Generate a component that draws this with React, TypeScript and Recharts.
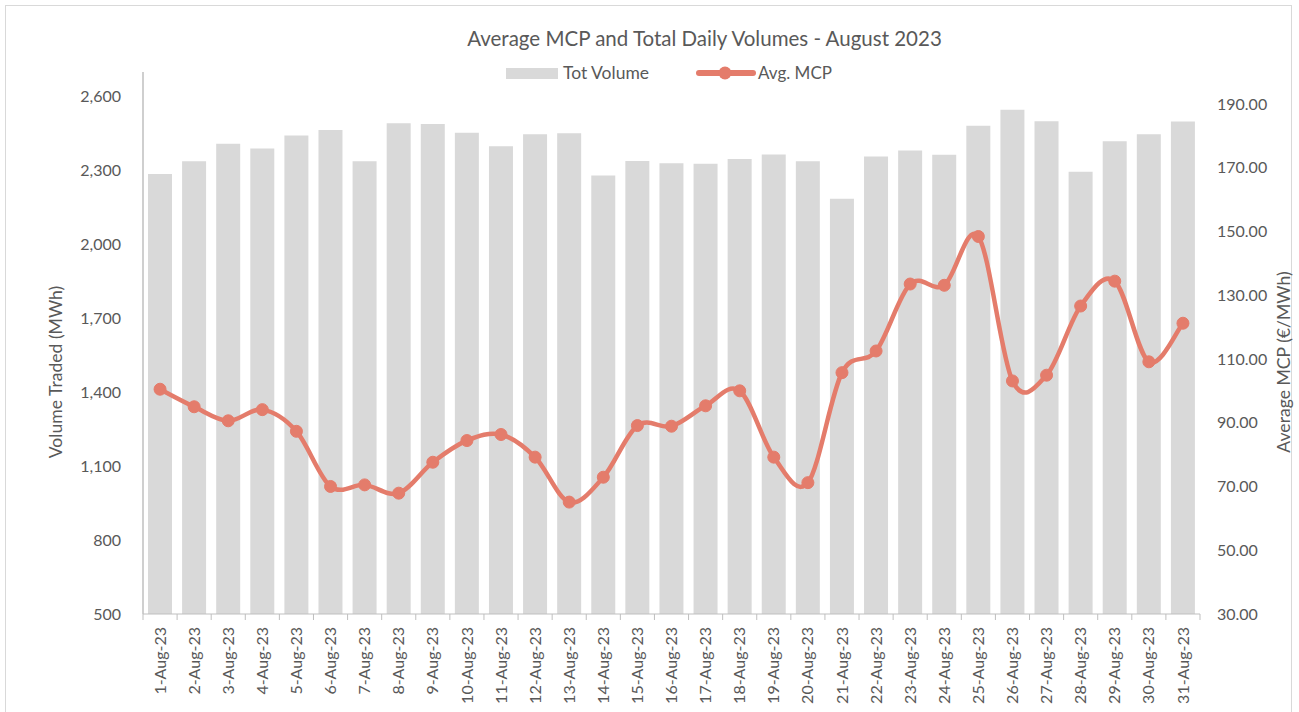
import React from 'react';
import { ComposedChart, Bar, Line, XAxis, YAxis } from 'recharts';

const categories = [
  '1-Aug-23', '2-Aug-23', '3-Aug-23', '4-Aug-23', '5-Aug-23', '6-Aug-23', '7-Aug-23', '8-Aug-23',
  '9-Aug-23', '10-Aug-23', '11-Aug-23', '12-Aug-23', '13-Aug-23', '14-Aug-23', '15-Aug-23', '16-Aug-23',
  '17-Aug-23', '18-Aug-23', '19-Aug-23', '20-Aug-23', '21-Aug-23', '22-Aug-23', '23-Aug-23', '24-Aug-23',
  '25-Aug-23', '26-Aug-23', '27-Aug-23', '28-Aug-23', '29-Aug-23', '30-Aug-23', '31-Aug-23',
];

const totVolume = [
  2286, 2338, 2409, 2389, 2442, 2465, 2338, 2492,
  2489, 2453, 2399, 2447, 2451, 2280, 2339, 2330,
  2328, 2347, 2365, 2338, 2186, 2357, 2381, 2364,
  2482, 2547, 2500, 2295, 2419, 2447, 2499,
];

const avgMcp = [
  100.5, 95.0, 90.6, 94.1, 87.3, 70.0, 70.5, 67.9,
  77.6, 84.4, 86.3, 79.2, 65.1, 72.9, 89.1, 88.9,
  95.3, 100.0, 79.2, 71.2, 105.7, 112.5, 133.5, 133.1,
  148.4, 103.1, 104.9, 126.6, 134.4, 109.1, 121.2,
];

const volumeTicks = [500, 800, 1100, 1400, 1700, 2000, 2300, 2600];
const mcpTicks = [30, 50, 70, 90, 110, 130, 150, 170, 190];

const data = categories.map((date, i) => ({ date, vol: totVolume[i], mcp: avgMcp[i] }));

const FONT = 'Lato, "Open Sans", sans-serif';
const TEXT = '#595959';
const AXIS = '#bfbfbf';
const BAR = '#d9d9d9';
const LINE = '#e47c6b';

const PLOT_LEFT = 143;
const PLOT_RIGHT = 1200;
const PLOT_TOP = 72;
const PLOT_BOTTOM = 614;
const BW = (PLOT_RIGHT - PLOT_LEFT) / categories.length;

// Catmull-Rom style smoothing similar to Excel's smoothed line
const smoothCurve = (context: any) => {
  let pts: [number, number][] = [];
  return {
    areaStart() {},
    areaEnd() {},
    lineStart() {
      pts = [];
    },
    point(x: number, y: number) {
      pts.push([+x, +y]);
    },
    lineEnd() {
      const n = pts.length;
      if (!n) return;
      context.moveTo(pts[0][0], pts[0][1]);
      for (let i = 0; i < n - 1; i++) {
        const p0 = pts[Math.max(i - 1, 0)];
        const p1 = pts[i];
        const p2 = pts[i + 1];
        const p3 = pts[Math.min(i + 2, n - 1)];
        const c1x = p1[0] + (p2[0] - p0[0]) / 6;
        const c1y = p1[1] + (p2[1] - p0[1]) / 6;
        const c2x = p2[0] - (p3[0] - p1[0]) / 6;
        const c2y = p2[1] - (p3[1] - p1[1]) / 6;
        context.bezierCurveTo(c1x, c1y, c2x, c2y, p2[0], p2[1]);
      }
    },
  };
};

const XTick = (props: any) => {
  const { x, y, payload, index } = props;
  const base = PLOT_BOTTOM - y;
  return (
    <g transform={`translate(${x},${y})`}>
      <line x1={-BW / 2} x2={-BW / 2} y1={base} y2={base + 6} stroke={AXIS} strokeWidth={1} />
      {index === categories.length - 1 && (
        <line x1={BW / 2} x2={BW / 2} y1={base} y2={base + 6} stroke={AXIS} strokeWidth={1} />
      )}
      <text
        transform="rotate(-90)"
        textAnchor="end"
        dy="0.35em"
        fill={TEXT}
        fontSize={16}
        fontFamily={FONT}
      >
        {payload.value}
      </text>
    </g>
  );
};

const LeftTitle = () => (
  <text
    x={55}
    y={372}
    transform="rotate(-90,55,372)"
    textAnchor="middle"
    dominantBaseline="central"
    fill={TEXT}
    fontSize={17.6}
    fontFamily={FONT}
  >
    Volume Traded (MWh)
  </text>
);

const RightTitle = () => (
  <text
    x={1283}
    y={362}
    transform="rotate(-90,1283,362)"
    textAnchor="middle"
    dominantBaseline="central"
    fill={TEXT}
    fontSize={17.6}
    fontFamily={FONT}
  >
    Average MCP (€/MWh)
  </text>
);

export default function App() {
  return (
    <div style={{ position: 'absolute', left: 0, top: 0, width: 1299, height: 712, background: '#fff', fontFamily: FONT }}>
      <div
        style={{
          position: 'absolute',
          left: 5,
          top: 5,
          width: 1287,
          height: 720,
          border: '1px solid #d9d9d9',
          boxSizing: 'border-box',
        }}
      />
      <div
        style={{
          position: 'absolute',
          left: 0,
          width: 1299,
          top: 24,
          textAlign: 'center',
          paddingLeft: 110,
          boxSizing: 'border-box',
          fontSize: 20.5,
          color: TEXT,
          lineHeight: '28px',
          whiteSpace: 'nowrap',
        }}
      >
        Average MCP and Total Daily Volumes - August 2023
      </div>
      <div style={{ position: 'absolute', left: 506, top: 68, width: 52, height: 11, background: BAR }} />
      <div style={{ position: 'absolute', left: 563, top: 62, fontSize: 17.5, color: TEXT, lineHeight: '22px', whiteSpace: 'nowrap' }}>
        Tot Volume
      </div>
      <svg style={{ position: 'absolute', left: 694, top: 63 }} width={64} height={20}>
        <line x1={5} y1={10} x2={59} y2={10} stroke={LINE} strokeWidth={6} strokeLinecap="round" />
        <circle cx={31} cy={10} r={6.5} fill={LINE} />
      </svg>
      <div style={{ position: 'absolute', left: 758, top: 62, fontSize: 17, color: TEXT, lineHeight: '22px', whiteSpace: 'nowrap' }}>
        Avg. MCP
      </div>
      <div style={{ position: 'absolute', left: 0, top: 0 }}>
        <ComposedChart
          width={1299}
          height={712}
          data={data}
          margin={{ top: PLOT_TOP, right: 0, bottom: 0, left: 0 }}
          barSize={24}
        >
          <XAxis
            dataKey="date"
            xAxisId={0}
            height={712 - PLOT_BOTTOM}
            interval={0}
            tickLine={false}
            tickMargin={7}
            axisLine={{ stroke: AXIS, strokeWidth: 1 }}
            tick={<XTick />}
          />
          <YAxis
            yAxisId="left"
            orientation="left"
            width={PLOT_LEFT}
            domain={[500, 2700]}
            ticks={volumeTicks}
            interval={0}
            allowDataOverflow
            tickLine={false}
            tickMargin={16}
            axisLine={{ stroke: AXIS, strokeWidth: 1.5 }}
            tick={{ fill: TEXT, fontSize: 16, fontFamily: FONT }}
            tickFormatter={(v: number) => v.toLocaleString('en-US')}
            label={<LeftTitle />}
          />
          <YAxis
            yAxisId="right"
            orientation="right"
            width={1299 - PLOT_RIGHT}
            domain={[30, 200]}
            ticks={mcpTicks}
            interval={0}
            allowDataOverflow
            tickLine={false}
            axisLine={false}
            tickMargin={11}
            tick={{ fill: TEXT, fontSize: 16, fontFamily: FONT, textAnchor: 'start' }}
            tickFormatter={(v: number) => v.toFixed(2)}
            label={<RightTitle />}
          />
          <Bar dataKey="vol" yAxisId="left" fill={BAR} isAnimationActive={false} name="Tot Volume" />
          <Line
            dataKey="mcp"
            yAxisId="right"
            type={smoothCurve as any}
            stroke={LINE}
            strokeWidth={4.5}
            dot={{ r: 6, fill: LINE, stroke: LINE, strokeWidth: 1 }}
            activeDot={false}
            isAnimationActive={false}
            name="Avg. MCP"
          />
        </ComposedChart>
      </div>
    </div>
  );
}
